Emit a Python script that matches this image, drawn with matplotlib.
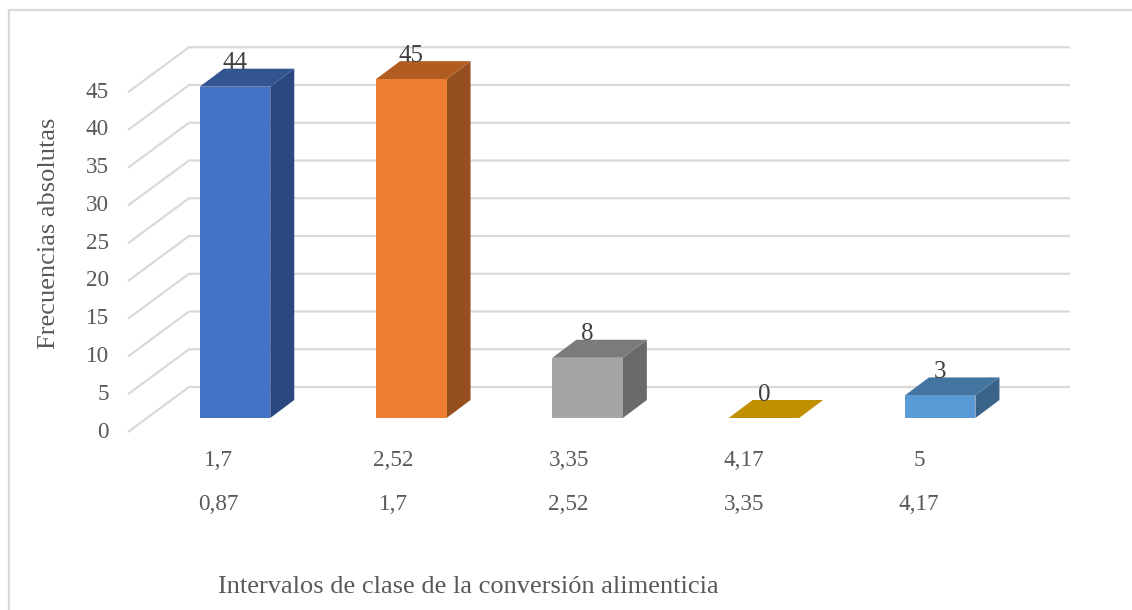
import matplotlib
matplotlib.use('Agg')
import matplotlib.pyplot as plt
from matplotlib.patches import Polygon, Rectangle

frecuencias = [44, 45, 8, 0, 3]
limite_sup = ['1,7', '2,52', '3,35', '4,17', '5']
limite_inf = ['0,87', '1,7', '2,52', '3,35', '4,17']
ticks_y = [0, 5, 10, 15, 20, 25, 30, 35, 40, 45]

frente = ['#4472C4', '#ED7D31', '#A5A5A5', '#FFC000', '#5B9BD5']
arriba = ['#325592', '#B15D22', '#7B7B7B', '#C09000', '#4474A0']
lado = ['#2A4780', '#964F1E', '#6A6A6A', '#A67C00', '#3A6389']

# escala en pixeles de la imagen original
px_x = 176.3    # pixeles entre categorias
px_y = 7.53     # pixeles por unidad
x0_px = 235.0
y0_px = 418.0
ancho = 70.5 / px_x
prof_x = 24 / px_x
prof_y = 18 / px_y


def dx(p):
    return (p - x0_px) / px_x


def dy(p):
    return (y0_px - p) / px_y


plt.rcParams['font.family'] = ['Liberation Serif', 'DejaVu Serif']

fig = plt.figure(figsize=(11.32, 6.10), dpi=100)
ax = fig.add_axes([0, 0, 1, 1])
ax.set_xlim(dx(0), dx(1132))
ax.set_ylim(dy(610), dy(0))
ax.axis('off')

# marco del grafico: solo se ven arriba e izquierda
ax.plot([dx(8.5), dx(8.5), dx(1132)], [dy(610), dy(10.5), dy(10.5)], color='#D9D9D9', lw=1.6,
        solid_joinstyle='miter')

# rejilla: pared del fondo y diagonal del piso
suelo = dy(387)
izq = dx(189)
der = dx(1070)
diag_x = 61 / px_x
diag_y = 45 / px_y
for t in ticks_y:
    y = suelo + t * 7.55 / px_y
    ax.plot([izq - diag_x, izq, der], [y - diag_y, y, y], color='#D9D9D9', lw=1.6,
            solid_capstyle='butt', zorder=1)
    ax.text(izq - diag_x - 19 / px_x, y - diag_y, str(t), ha='right', va='center',
            fontsize=16.7, color='#595959')

# barras 3D
for i, v in enumerate(frecuencias):
    x1 = i - ancho / 2
    x2 = i + ancho / 2
    if v > 0:
        ax.add_patch(Polygon([(x2, 0), (x2 + prof_x, prof_y), (x2 + prof_x, v + prof_y), (x2, v)],
                             fc=lado[i], ec='none', zorder=3))
    ax.add_patch(Polygon([(x1, v), (x2, v), (x2 + prof_x, v + prof_y), (x1 + prof_x, v + prof_y)],
                         fc=arriba[i], ec='none', zorder=3))
    if v > 0:
        ax.add_patch(Rectangle((x1, 0), ancho, v, fc=frente[i], ec='none', zorder=4))
    ax.text(i, v + prof_y + 0.7, str(v), ha='center', va='center', fontsize=18,
            color='#404040', zorder=5)

# etiquetas de categoria (dos niveles)
for i in range(len(frecuencias)):
    xe = dx(218 + 175.3 * i)
    ax.text(xe, dy(461), limite_sup[i], ha='center', va='center', fontsize=16.7, color='#595959')
    ax.text(xe, dy(504), limite_inf[i], ha='center', va='center', fontsize=16.7, color='#595959')

ax.text(dx(468), dy(587), 'Intervalos de clase de la conversión alimenticia',
        ha='center', va='center', fontsize=19, color='#595959')
ax.text(dx(49), dy(233), 'Frecuencias absolutas', ha='center', va='center',
        rotation=90, fontsize=19, color='#595959')

fig.savefig('out.png', dpi=100)
